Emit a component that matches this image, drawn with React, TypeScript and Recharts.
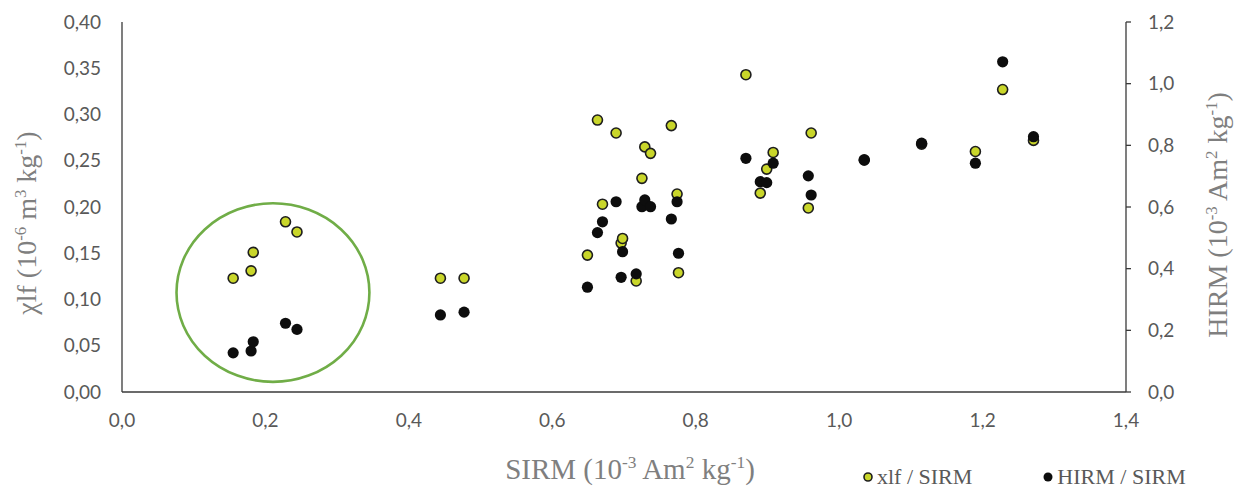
import { ScatterChart, Scatter, XAxis, YAxis, ReferenceArea } from 'recharts';

// one entry per sample: SIRM (x), χlf (left axis), HIRM (right axis)
const sirm = [
  0.155, 0.18, 0.183, 0.228, 0.244, 0.444, 0.477, 0.649, 0.663, 0.67, 0.689,
  0.696, 0.698, 0.717, 0.725, 0.729, 0.737, 0.766, 0.774, 0.776, 0.87, 0.89,
  0.899, 0.908, 0.957, 0.961, 1.035, 1.115, 1.19, 1.228, 1.271,
];
const xlf = [
  0.123, 0.131, 0.151, 0.184, 0.173, 0.123, 0.123, 0.148, 0.294, 0.203, 0.28,
  0.161, 0.166, 0.12, 0.231, 0.265, 0.258, 0.288, 0.214, 0.129, 0.343, 0.215,
  0.241, 0.259, 0.199, 0.28, 0.251, 0.268, 0.26, 0.327, 0.272,
];
const hirm = [
  0.127, 0.133, 0.163, 0.223, 0.203, 0.25, 0.259, 0.34, 0.517, 0.552, 0.617,
  0.372, 0.455, 0.383, 0.601, 0.623, 0.601, 0.561, 0.617, 0.45, 0.758, 0.682,
  0.679, 0.742, 0.701, 0.639, 0.752, 0.807, 0.742, 1.071, 0.828,
];

const xTicks = [0, 0.2, 0.4, 0.6, 0.8, 1.0, 1.2, 1.4];
const leftTicks = [0, 0.05, 0.1, 0.15, 0.2, 0.25, 0.3, 0.35, 0.4];
const rightTicks = [0, 0.2, 0.4, 0.6, 0.8, 1.0, 1.2];

// highlighted group of low-SIRM samples (data units, left axis)
const groupBox = { x1: 0.076, x2: 0.345, y1: 0.011, y2: 0.204 };

const xlfData = sirm.map((s, i) => ({ sirm: s, value: xlf[i] }));
const hirmData = sirm.map((s, i) => ({ sirm: s, value: hirm[i] }));

const YELLOW = '#c9d62a';
const tickStyle = { fill: '#595959', fontSize: 19, fontFamily: 'Lato, sans-serif' };
const titleStyle: React.CSSProperties = {
  position: 'absolute',
  whiteSpace: 'nowrap',
  fontFamily: '"Liberation Serif", serif',
  fontSize: 28,
  color: '#7f7f7f',
  lineHeight: 1,
};
const supStyle: React.CSSProperties = { fontSize: '0.6em', verticalAlign: '0.6em' };

const comma = (d: number) => (v: number) => v.toFixed(d).replace('.', ',');

const YellowDot = (p: any) => (
  <circle cx={p.cx} cy={p.cy} r={5} fill={YELLOW} stroke="#1e1e1e" strokeWidth={1.6} />
);
const BlackDot = (p: any) => <circle cx={p.cx} cy={p.cy} r={5.6} fill="#0d0d0d" />;

const GroupEllipse = (p: any) => (
  <ellipse
    cx={p.x + p.width / 2}
    cy={p.y + p.height / 2}
    rx={p.width / 2}
    ry={p.height / 2}
    fill="none"
    stroke="#70ad47"
    strokeWidth={2.6}
  />
);

export default function App() {
  return (
    <div style={{ position: 'absolute', left: 0, top: 0, width: 1239, height: 492, background: '#fff' }}>
      <ScatterChart width={1239} height={492} margin={{ top: 22, right: 43, bottom: 60, left: 42 }}>
        <XAxis
          type="number"
          dataKey="sirm"
          domain={[0, 1.4]}
          ticks={xTicks}
          tickFormatter={comma(1)}
          tick={tickStyle}
          tickLine={false}
          tickSize={0}
          tickMargin={22}
          height={40}
          axisLine={{ stroke: '#3a3a3a', strokeWidth: 1.3 }}
          allowDataOverflow
        />
        <YAxis
          yAxisId="left"
          type="number"
          dataKey="value"
          domain={[0, 0.4]}
          ticks={leftTicks}
          tickFormatter={comma(2)}
          tick={tickStyle}
          tickLine={false}
          tickSize={0}
          tickMargin={21}
          width={80}
          axisLine={{ stroke: '#3a3a3a', strokeWidth: 1.3 }}
        />
        <YAxis
          yAxisId="right"
          orientation="right"
          type="number"
          dataKey="value"
          domain={[0, 1.2]}
          ticks={rightTicks}
          tickFormatter={comma(1)}
          tick={tickStyle}
          tickLine={{ stroke: '#3a3a3a', strokeWidth: 1.3 }}
          tickSize={5}
          tickMargin={17}
          width={70}
          axisLine={{ stroke: '#3a3a3a', strokeWidth: 1.3 }}
        />
        <ReferenceArea
          yAxisId="left"
          x1={groupBox.x1}
          x2={groupBox.x2}
          y1={groupBox.y1}
          y2={groupBox.y2}
          shape={GroupEllipse}
        />
        <Scatter
          name="xlf / SIRM"
          data={xlfData}
          yAxisId="left"
          shape={YellowDot}
          isAnimationActive={false}
        />
        <Scatter
          name="HIRM / SIRM"
          data={hirmData}
          yAxisId="right"
          shape={BlackDot}
          isAnimationActive={false}
        />
      </ScatterChart>

      {/* axis titles */}
      <div style={{ ...titleStyle, left: 27, top: 223, transform: 'translate(-50%, -50%) rotate(-90deg)' }}>
        χlf (10<span style={supStyle}>-6</span> m<span style={supStyle}>3</span> kg
        <span style={supStyle}>-1</span>)
      </div>
      <div style={{ ...titleStyle, left: 1218, top: 215, transform: 'translate(-50%, -50%) rotate(-90deg)' }}>
        HIRM (10<span style={supStyle}>-3</span> Am<span style={supStyle}>2</span> kg
        <span style={supStyle}>-1</span>)
      </div>
      <div style={{ ...titleStyle, left: 630, top: 469, fontSize: 29, transform: 'translate(-50%, -50%)' }}>
        SIRM (10<span style={supStyle}>-3</span> Am<span style={supStyle}>2</span> kg
        <span style={supStyle}>-1</span>)
      </div>

      {/* legend */}
      <div
        style={{
          position: 'absolute',
          left: 862,
          top: 466,
          display: 'flex',
          alignItems: 'center',
          fontFamily: '"Liberation Serif", serif',
          fontSize: 22,
          color: '#595959',
          lineHeight: 1,
        }}
      >
        <svg width={12} height={12} style={{ marginRight: 3 }}>
          <circle cx={6} cy={6} r={4} fill={YELLOW} stroke="#1e1e1e" strokeWidth={1.6} />
        </svg>
        <span style={{ marginRight: 70 }}>xlf / SIRM</span>
        <svg width={12} height={12} style={{ marginRight: 3 }}>
          <circle cx={6} cy={6} r={4.5} fill="#0d0d0d" />
        </svg>
        <span>HIRM / SIRM</span>
      </div>
    </div>
  );
}
